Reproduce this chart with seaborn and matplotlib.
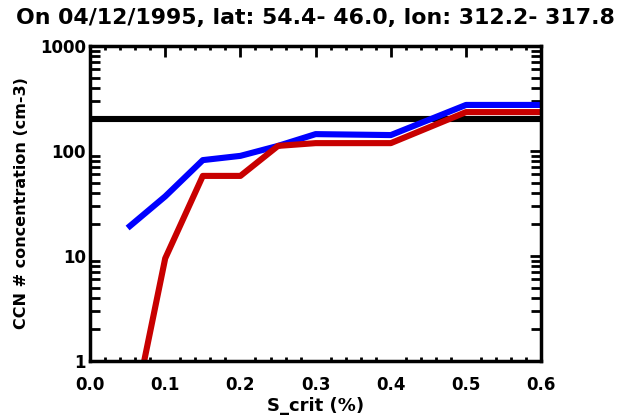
import matplotlib
matplotlib.use("Agg")
import matplotlib.pyplot as plt
import matplotlib.ticker as mticker
import numpy as np
import pandas as pd
import seaborn as sns

# Critical supersaturation (%) and CCN number concentrations (cm-3)
s_crit_blue = [0.05, 0.10, 0.15, 0.20, 0.25, 0.30, 0.40, 0.50, 0.60]
ccn_blue = [18.5, 37.0, 82.0, 90.0, 112.0, 145.0, 142.0, 275.0, 275.0]

s_crit_red = [0.05, 0.10, 0.15, 0.20, 0.25, 0.30, 0.40, 0.50, 0.60]
ccn_red = [0.17, 9.5, 58.0, 58.0, 112.0, 119.0, 119.0, 235.0, 235.0]

s_crit_ref = [0.0, 0.6]
ccn_ref = [200.0, 200.0]

x_ticks = [0.0, 0.1, 0.2, 0.3, 0.4, 0.5, 0.6]
x_tick_labels = ["0.0", "0.1", "0.2", "0.3", "0.4", "0.5", "0.6"]
y_ticks = [1, 10, 100, 1000]
y_tick_labels = ["1", "10", "100", "1000"]

title = "On 04/12/1995, lat: 54.4- 46.0, lon: 312.2- 317.8"

sns.set_style("white")
plt.rcParams["font.family"] = ["DejaVu Sans"]
plt.rcParams["font.weight"] = "bold"
plt.rcParams["text.color"] = "black"
plt.rcParams["axes.labelcolor"] = "black"
plt.rcParams["xtick.color"] = "black"
plt.rcParams["ytick.color"] = "black"

fig = plt.figure(figsize=(6.25, 4.15), dpi=100)
ax = fig.add_axes([0.144, 0.130, 0.722, 0.759])

lw = 4.4
sns.lineplot(x=s_crit_ref, y=ccn_ref, ax=ax, color="black", linewidth=lw,
             solid_capstyle="butt")
sns.lineplot(x=s_crit_blue, y=ccn_blue, ax=ax, color="#0000FF", linewidth=lw,
             solid_capstyle="butt")
sns.lineplot(x=s_crit_red, y=ccn_red, ax=ax, color="#C80000", linewidth=lw,
             solid_capstyle="butt")

ax.set_yscale("log")
ax.set_xlim(0.0, 0.6)
ax.set_ylim(1, 1000)

ax.set_xticks(x_ticks)
ax.set_xticklabels(x_tick_labels, fontsize=12, fontweight="bold")
ax.set_yticks(y_ticks)
ax.set_yticklabels(y_tick_labels, fontsize=12, fontweight="bold")
ax.xaxis.set_minor_locator(mticker.MultipleLocator(0.02))
ax.yaxis.set_minor_locator(mticker.LogLocator(base=10, subs=np.arange(2, 10)))
ax.yaxis.set_minor_formatter(mticker.NullFormatter())

ax.tick_params(axis="both", which="major", direction="in", length=8, width=2,
               top=True, right=True, color="black")
ax.tick_params(axis="x", which="major", pad=11)
ax.tick_params(axis="y", which="major", pad=3)
ax.tick_params(axis="y", which="minor", direction="in", length=7, width=2,
               left=True, right=True)
ax.tick_params(axis="x", which="minor", direction="in", length=3, width=2,
               bottom=True, top=True)

for sp in ax.spines.values():
    sp.set_linewidth(2.5)
    sp.set_color("black")

ax.set_xlabel("S_crit (%)", fontsize=13, fontweight="bold", labelpad=2)
ax.set_ylabel("CCN # concentration (cm-3)", fontsize=11.5, fontweight="bold",
              labelpad=8)
fig.text(0.505, 0.957, title, ha="center", va="center", fontsize=15.8,
         fontweight="bold")

fig.savefig("out.png", dpi=100, facecolor="white")
